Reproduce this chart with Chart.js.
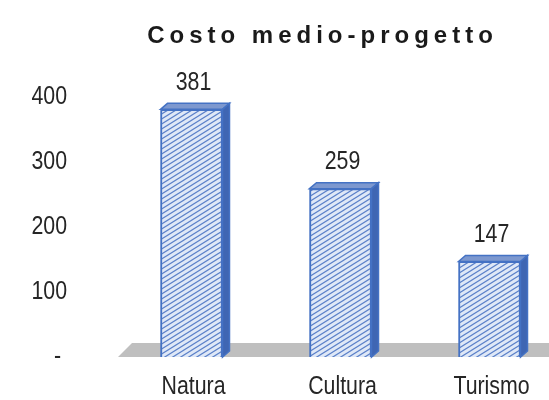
<!DOCTYPE html>
<html>
<head>
<meta charset="utf-8">
<script src="https://cdn.jsdelivr.net/npm/chart.js@4.4.1/dist/chart.umd.min.js"></script>
<style>
  html, body { margin: 0; padding: 0; background: #fff; overflow: hidden; }
  canvas { display: block; }
</style>
</head>
<body>
<canvas id="costChart" width="564" height="400"></canvas>
<script>
const categories = ['Natura', 'Cultura', 'Turismo'];
const costValues = [381, 259, 147];
const yTicks = [0, 100, 200, 300, 400];
const chartTitle = 'Costo medio-progetto';

const SANS = '"Liberation Sans", Arial, sans-serif';
const TEXT = '#262626';
const DEPTH_X = 7, DEPTH_Y = 6;

// excel uses Arial Narrow; squeeze Liberation Sans the same way
function narrowText(ctx, text, x, y, align) {
  ctx.save();
  ctx.font = '26px ' + SANS;
  ctx.fillStyle = TEXT;
  ctx.textAlign = align;
  ctx.textBaseline = 'middle';
  ctx.translate(x, y);
  ctx.scale(0.82, 1);
  ctx.fillText(text, 0, 0);
  ctx.restore();
}

// diagonal hatch like the excel "wide upward diagonal" fill
function makeHatch() {
  const c = document.createElement('canvas');
  c.width = 8; c.height = 5;
  const g = c.getContext('2d');
  g.fillStyle = '#dfe8f7';
  g.fillRect(0, 0, 8, 5);
  g.strokeStyle = '#5b80c9';
  g.lineWidth = 1.2;
  g.beginPath();
  [0, 5, 10].forEach(k => {
    g.moveTo(-1, k + 5 / 8);
    g.lineTo(9, k - 45 / 8);
  });
  g.stroke();
  return g.createPattern(c, 'repeat');
}

// grey floor under the bars
const floorPlugin = {
  id: 'floor',
  beforeDatasetsDraw(chart) {
    const { ctx, chartArea, scales } = chart;
    const y0 = scales.y.getPixelForValue(0);
    ctx.save();
    ctx.fillStyle = '#bfbfbf';
    ctx.beginPath();
    ctx.moveTo(chartArea.left + 1, y0);
    ctx.lineTo(chartArea.left + 15, y0 - 14);
    ctx.lineTo(chart.width, y0 - 14);
    ctx.lineTo(chart.width, y0);
    ctx.closePath();
    ctx.fill();
    ctx.restore();
  }
};

// fake 3D top and side, plus value labels
const boxPlugin = {
  id: 'box3d',
  afterDatasetsDraw(chart) {
    const { ctx } = chart;
    const meta = chart.getDatasetMeta(0);
    meta.data.forEach((bar, i) => {
      const l = bar.x - bar.width / 2, r = bar.x + bar.width / 2;
      const t = bar.y, b = bar.base;
      ctx.save();
      ctx.lineWidth = 1.5;
      ctx.strokeStyle = '#4472c4';
      ctx.fillStyle = '#7d98cf';
      ctx.beginPath();
      ctx.moveTo(l, t);
      ctx.lineTo(l + DEPTH_X, t - DEPTH_Y);
      ctx.lineTo(r + DEPTH_X, t - DEPTH_Y);
      ctx.lineTo(r, t);
      ctx.closePath();
      ctx.fill(); ctx.stroke();
      ctx.fillStyle = '#3f66b3';
      ctx.beginPath();
      ctx.moveTo(r, t);
      ctx.lineTo(r + DEPTH_X, t - DEPTH_Y);
      ctx.lineTo(r + DEPTH_X, b - DEPTH_Y);
      ctx.lineTo(r, b);
      ctx.closePath();
      ctx.fill(); ctx.stroke();
      ctx.restore();

      narrowText(ctx, String(costValues[i]), bar.x + 2, t - DEPTH_Y - 21, 'center');
    });
  }
};

// axis labels in narrow type, placed with the chart's own scales
const axisLabelPlugin = {
  id: 'narrowTicks',
  afterDraw(chart) {
    const { ctx, scales, chartArea } = chart;
    yTicks.forEach(v => {
      const txt = v === 0 ? '-' : String(v);
      const xr = v === 0 ? 61 : 67;
      narrowText(ctx, txt, xr, scales.y.getPixelForValue(v), 'right');
    });
    categories.forEach((c, i) => {
      narrowText(ctx, c, scales.x.getPixelForTick(i) + 2, chartArea.bottom + 30, 'center');
    });
  }
};

// title with letter spacing (built-in title can't do that)
const titlePlugin = {
  id: 'spacedTitle',
  afterDraw(chart) {
    const { ctx } = chart;
    const ls = 5;
    ctx.save();
    ctx.font = 'bold 24px ' + SANS;
    ctx.letterSpacing = ls + 'px';
    ctx.fillStyle = '#1a1a1a';
    ctx.textAlign = 'left';
    ctx.textBaseline = 'alphabetic';
    const w = ctx.measureText(chartTitle).width - ls;
    ctx.fillText(chartTitle, 320 - w / 2, 43);
    ctx.restore();
  }
};

const ctx = document.getElementById('costChart');
new Chart(ctx, {
  type: 'bar',
  data: {
    labels: categories,
    datasets: [{
      data: costValues,
      backgroundColor: makeHatch(),
      borderColor: '#4472c4',
      borderWidth: 2,
      barThickness: 62
    }]
  },
  options: {
    responsive: false,
    animation: false,
    layout: { padding: { top: 97, right: 0, left: 117, bottom: 43 } },
    plugins: {
      legend: { display: false },
      tooltip: { enabled: false },
      title: { display: false }
    },
    scales: {
      x: {
        display: false
      },
      y: {
        display: false,
        min: yTicks[0],
        max: yTicks[yTicks.length - 1]
      }
    }
  },
  plugins: [floorPlugin, boxPlugin, axisLabelPlugin, titlePlugin]
});
</script>
</body>
</html>
